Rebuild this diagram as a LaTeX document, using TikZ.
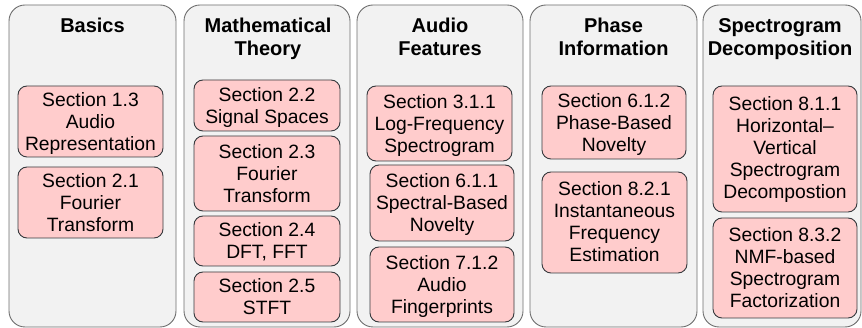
\documentclass[tikz,border=0pt]{standalone}
\usepackage{fontspec}
\setmainfont{Liberation Sans}
\definecolor{colfill}{HTML}{F2F2F2}
\definecolor{colline}{HTML}{6E6E6E}
\definecolor{secfill}{HTML}{FFCCCC}
\definecolor{secline}{HTML}{36393D}
\begin{document}
\begin{tikzpicture}[x=1pt,y=-1pt,
colbox/.style={draw=colline,fill=colfill,line width=0.9pt,rounded corners=16pt,minimum width=#1,minimum height=322pt,inner sep=0pt},
coltitle/.style={anchor=north,inner sep=0pt,align=center,font=\fontsize{20}{23}\selectfont\bfseries},
secbox/.style={draw=secline,fill=secfill,line width=0.9pt,rounded corners=9pt,inner sep=0pt,align=center,minimum width=145pt,
  font=\fontsize{19.3}{22}\selectfont,text depth=#1},
secbox/.default=-4pt]
\useasboundingbox (0,0) rectangle (862,328);
% columns
\node[colbox=167pt] (basics) at (92.5,166) {};
\node[colbox=166pt] (theory) at (267,166) {};
\node[colbox=166pt] (features) at (440,166) {};
\node[colbox=167pt] (phase) at (613.5,166) {};
\node[colbox=158pt] (decomp) at (782,166) {};
\node[coltitle] (tbasics) at (92.5,18.3) {Basics};
\node[coltitle] (ttheory) at (268,18.3) {Mathematical\\Theory};
\node[coltitle] (tfeatures) at (440,18.3) {Audio\\Features};
\node[coltitle] (tphase) at (613.5,18.3) {Phase\\Information};
\node[coltitle] (tdecomp) at (780,18.3) {Spectrogram\\Decomposition};
% sections
\node[secbox=-5pt,minimum height=71pt] (s13) at (90.5,121.5) {Section 1.3\\Audio\\Representation};
\node[secbox=-5pt,minimum height=71pt] (s21) at (90.5,202.5) {Section 2.1\\Fourier\\Transform};
\node[secbox=-1.5pt,minimum width=146pt,minimum height=51pt] (s22) at (267,105.5) {Section 2.2\\Signal Spaces};
\node[secbox,minimum width=146pt,minimum height=75pt] (s23) at (267,173.5) {Section 2.3\\Fourier\\Transform};
\node[secbox=-1.5pt,minimum width=146pt,minimum height=50pt] (s24) at (267,241) {Section 2.4\\DFT, FFT};
\node[secbox=-1.5pt,minimum width=146pt,minimum height=50pt] (s25) at (267,297) {Section 2.5\\STFT};
\node[secbox,minimum height=75pt] (s311) at (439.5,123.5) {Section 3.1.1\\Log-Frequency\\Spectrogram};
\node[secbox,minimum width=144pt,minimum height=76pt] (s611) at (442,203) {Section 6.1.1\\Spectral-Based\\Novelty};
\node[secbox,minimum width=144pt,minimum height=75pt] (s712) at (442,284.5) {Section 7.1.2\\Audio\\Fingerprints};
\node[secbox=-3pt,minimum width=144pt,minimum height=73pt] (s612) at (614,122.5) {Section 6.1.2\\Phase-Based\\Novelty};
\node[secbox=1pt,minimum width=145pt,minimum height=101pt] (s821) at (614.5,222.5) {Section 8.2.1\\Instantaneous\\Frequency\\Estimation};
\node[secbox=2pt,minimum width=144pt,minimum height=126pt] (s811) at (785,149) {Section 8.1.1\\Horizontal--\\Vertical\\Spectrogram\\Decompostion};
\node[secbox=1pt,minimum width=144pt,minimum height=100pt] (s832) at (785,268) {Section 8.3.2\\NMF-based\\Spectrogram\\Factorization};
\end{tikzpicture}
\end{document}
